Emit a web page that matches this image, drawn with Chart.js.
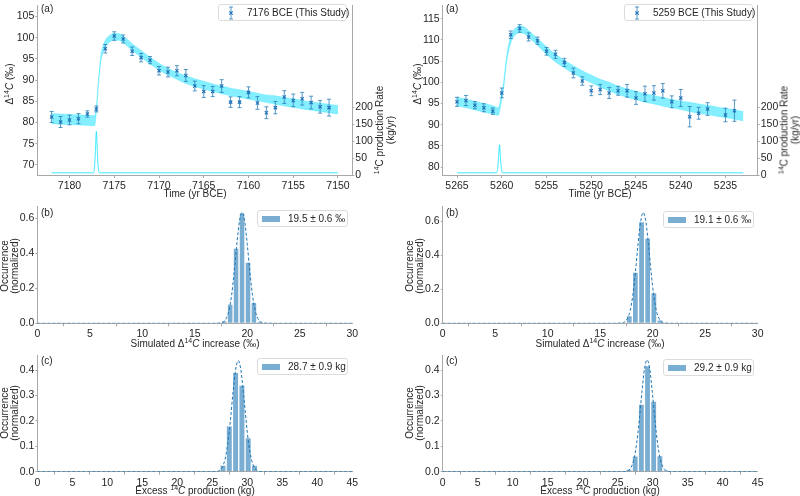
<!DOCTYPE html>
<html lang="en">
<head>
<meta charset="UTF-8">
<title>Radiocarbon events 7176 BCE and 5259 BCE</title>
<script src="https://cdn.jsdelivr.net/npm/chart.js"></script>
<style>
  body { margin: 0; background: #fff; font-family: "Liberation Sans", Arial, sans-serif; color: #262626; }
  #fig { position: relative; width: 800px; height: 496px; overflow: hidden; }
  canvas { position: absolute; }
  .lbl { position: absolute; font-size: 10px; line-height: 10px; white-space: nowrap; }
  .c { transform: translate(-50%, -50%); text-align: center; }
  .rot { transform: translate(-50%, -50%) rotate(-90deg); text-align: center; }
  .sup { font-size: 7px; position: relative; top: -4px; }
  .legend { position: absolute; height: 17px; box-sizing: border-box; border: 1px solid #dcdcdc;
            border-radius: 3px; background: #fff; font-size: 10px; }
  .legend span { position: absolute; top: 2px; white-space: nowrap; }
  .legend .patch { position: absolute; top: 5px; left: 4px; width: 18px; height: 6px; background: rgba(31,119,180,0.6); }
  .legend svg { position: absolute; top: 1px; left: 6px; }
</style>
</head>
<body>
<div id="fig">
  <canvas id="aLeft" width="400" height="190" style="left:0;top:0"></canvas>
  <canvas id="aRight" width="400" height="190" style="left:400px;top:0"></canvas>
  <canvas id="bLeft" width="400" height="145" style="left:0;top:195px"></canvas>
  <canvas id="bRight" width="400" height="145" style="left:400px;top:195px"></canvas>
  <canvas id="cLeft" width="400" height="145" style="left:0;top:345px"></canvas>
  <canvas id="cRight" width="400" height="145" style="left:400px;top:345px"></canvas>

  <!-- panel letters -->
  <div class="lbl" style="left:41px;top:4px">(a)</div>
  <div class="lbl" style="left:446px;top:4px">(a)</div>
  <div class="lbl" style="left:41px;top:208px">(b)</div>
  <div class="lbl" style="left:446px;top:208px">(b)</div>
  <div class="lbl" style="left:41px;top:356px">(c)</div>
  <div class="lbl" style="left:446px;top:356px">(c)</div>

  <!-- axis titles -->
  <div class="lbl rot" style="left:10px;top:84px">Δ<span class="sup">14</span><i>C</i> (‰)</div>
  <div class="lbl rot" style="left:418px;top:84px">Δ<span class="sup">14</span><i>C</i> (‰)</div>
  <div class="lbl rot" style="left:385px;top:130px"><span class="sup">14</span>C production Rate<br>(kg/yr)</div>
  <div class="lbl rot" style="left:790px;top:130px"><span class="sup">14</span>C production Rate<br>(kg/yr)</div>
  <div class="lbl c" style="left:195px;top:194px">Time (yr BCE)</div>
  <div class="lbl c" style="left:600px;top:194px">Time (yr BCE)</div>
  <div class="lbl rot" style="left:10px;top:266px">Occurrence<br>(normalized)</div>
  <div class="lbl rot" style="left:415px;top:266px">Occurrence<br>(normalized)</div>
  <div class="lbl c" style="left:195px;top:344px">Simulated Δ<span class="sup">14</span><i>C</i> increase (‰)</div>
  <div class="lbl c" style="left:600px;top:344px">Simulated Δ<span class="sup">14</span><i>C</i> increase (‰)</div>
  <div class="lbl rot" style="left:10px;top:413px">Occurrence<br>(normalized)</div>
  <div class="lbl rot" style="left:415px;top:413px">Occurrence<br>(normalized)</div>
  <div class="lbl c" style="left:195px;top:491px">Excess <span class="sup">14</span><i>C</i> production (kg)</div>
  <div class="lbl c" style="left:600px;top:491px">Excess <span class="sup">14</span><i>C</i> production (kg)</div>

  <!-- legends -->
  <div class="legend" style="left:218px;top:4px;width:129px">
    <svg width="12" height="14"><path d="M6 1V13M4 1H8M4 13H8" stroke="rgba(31,119,180,0.75)" stroke-width="1" fill="none"/><path d="M4.3 5.3L7.7 8.7M7.7 5.3L4.3 8.7" stroke="#1f6fb4" stroke-width="1.1"/></svg>
    <span style="left:28px">7176 BCE (This Study)</span>
  </div>
  <div class="legend" style="left:624px;top:4px;width:129px">
    <svg width="12" height="14"><path d="M6 1V13M4 1H8M4 13H8" stroke="rgba(31,119,180,0.75)" stroke-width="1" fill="none"/><path d="M4.3 5.3L7.7 8.7M7.7 5.3L4.3 8.7" stroke="#1f6fb4" stroke-width="1.1"/></svg>
    <span style="left:28px">5259 BCE (This Study)</span>
  </div>
  <div class="legend" style="left:257px;top:210px;width:91px"><div class="patch"></div><span style="left:30px">19.5 ± 0.6 ‰</span></div>
  <div class="legend" style="left:663px;top:211px;width:91px"><div class="patch"></div><span style="left:30px">19.1 ± 0.6 ‰</span></div>
  <div class="legend" style="left:257px;top:358px;width:91px"><div class="patch"></div><span style="left:30px">28.7 ± 0.9 kg</span></div>
  <div class="legend" style="left:663px;top:359px;width:91px"><div class="patch"></div><span style="left:30px">29.2 ± 0.9 kg</span></div>
</div>

<script>
// ---- panel (a), 7176 BCE event ----
const yearsL = [7182, 7181, 7180, 7179, 7178, 7177, 7176, 7175, 7174, 7173, 7172, 7171, 7170, 7169, 7168, 7167,
                7166, 7165, 7164, 7163, 7162, 7161, 7160, 7159, 7158, 7157, 7156, 7155, 7154, 7153, 7152, 7151];
const d14cL = [81.3, 80.1, 80.6, 80.9, 82.0, 83.2, 97.4, 100.4, 99.7, 96.8, 95.3, 94.7, 92.2, 91.9, 92.2, 91.1,
               88.6, 87.3, 87.3, 88.6, 84.8, 84.8, 87.1, 84.6, 82.3, 83.5, 86.0, 85.2, 85.6, 84.7, 83.7, 83.5];
const errL = [1.3, 1.3, 1.15, 1.2, 0.75, 0.7, 1.0, 1.0, 0.95, 1.0, 1.0, 0.85, 1.0, 1.15, 1.2, 1.4,
              1.15, 1.4, 1.2, 1.5, 1.25, 1.3, 1.3, 1.5, 1.4, 1.45, 1.5, 1.5, 1.5, 1.5, 1.5, 2.0];
const bandYearsL = [7182, 7181, 7180, 7179, 7178, 7177.2, 7177.0, 7176.8, 7176.5, 7176.2, 7176, 7175.5, 7175, 7174.5,
                    7174, 7173, 7172, 7171, 7170, 7169, 7168, 7167, 7166, 7165, 7164, 7163, 7162, 7161, 7160,
                    7159, 7158, 7157, 7156, 7155, 7154, 7153, 7152, 7151, 7150];
const bandHiL = [82.1, 82.0, 81.9, 81.8, 81.7, 81.6, 83.8, 89.3, 95.8, 98.4, 99.4, 100.6, 101.0, 101.0,
                 100.4, 98.6, 97.0, 95.4, 94.0, 92.8, 91.8, 91.0, 90.3, 89.7, 89.1, 88.6, 88.1, 87.7, 87.3,
                 86.9, 86.5, 86.3, 85.9, 85.6, 85.2, 84.9, 84.6, 84.3, 84.0];
const bandLoL = [79.7, 79.6, 79.5, 79.4, 79.3, 79.2, 82.2, 87.7, 94.2, 96.8, 97.8, 99.0, 99.4, 99.4,
                 98.8, 97.0, 95.4, 93.8, 92.4, 91.2, 90.2, 89.2, 88.5, 87.9, 87.3, 86.8, 86.3, 85.9, 85.5,
                 85.1, 84.7, 84.3, 83.9, 83.6, 83.2, 82.9, 82.6, 82.3, 82.0];
const prodYearsL = [7182, 7177.35, 7177.2, 7177.1, 7177.0, 7176.9, 7176.8, 7176.65, 7150];
const prodL = [6.5, 6.5, 25, 75, 128, 75, 25, 6.5, 6.5];

// ---- panel (a), 5259 BCE event ----
const yearsR = [5265, 5264, 5263, 5262, 5261, 5260, 5259, 5258, 5257, 5256, 5255, 5254, 5253, 5252, 5251, 5250,
                5249, 5248, 5247, 5246, 5245, 5244, 5243, 5242, 5241, 5240, 5239, 5238, 5237, 5235, 5234];
const d14cR = [95.4, 95.7, 94.6, 94.0, 93.2, 97.5, 111.2, 112.7, 110.7, 109.8, 107.3, 106.6, 104.7, 102.2, 100.3, 98.0,
               98.3, 97.5, 98.0, 98.0, 96.3, 97.3, 97.5, 98.0, 95.4, 96.3, 91.9, 92.7, 93.7, 92.3, 93.3];
const errR = [1.07, 1.2, 0.85, 0.95, 0.75, 1.15, 0.9, 0.9, 0.95, 0.85, 0.9, 0.95, 0.95, 1.15, 1.0, 1.15,
              1.2, 1.3, 1.05, 1.5, 1.5, 1.8, 1.7, 1.7, 1.4, 2.0, 2.4, 1.4, 1.5, 1.6, 2.5];
const bandYearsR = [5265, 5264, 5263, 5262, 5261, 5260.4, 5260.1, 5259.8, 5259.45, 5259.1, 5258.8, 5258.4, 5258, 5257.5,
                    5257, 5256, 5255, 5254, 5253, 5252, 5251, 5250, 5249, 5248, 5247, 5246, 5245, 5244, 5243,
                    5242, 5241, 5240, 5239, 5238, 5237, 5236, 5235, 5234, 5233];
const bandHiR = [96.5, 96.0, 95.5, 95.0, 94.5, 94.0, 96.3, 100.0, 106.3, 110.1, 111.8, 112.9, 113.3, 113.1,
                 112.2, 110.3, 108.4, 106.6, 105.2, 103.9, 102.7, 101.7, 100.7, 100.0, 99.1, 98.5, 97.9, 97.3, 96.9,
                 96.4, 96.0, 95.6, 95.3, 94.9, 94.6, 94.2, 93.9, 93.5, 93.1];
const bandLoR = [94.5, 94.0, 93.5, 93.0, 92.5, 92.2, 94.7, 98.4, 104.7, 108.5, 110.2, 111.3, 111.7, 111.5,
                 110.6, 108.7, 106.6, 104.8, 103.4, 102.1, 100.9, 99.9, 98.9, 98.0, 97.1, 96.5, 95.9, 95.3, 94.9,
                 94.4, 94.0, 93.6, 93.1, 92.7, 92.4, 92.0, 91.7, 91.3, 90.9];
const prodYearsR = [5265, 5260.6, 5260.45, 5260.35, 5260.25, 5260.15, 5260.05, 5259.9, 5233];
const prodR = [6.5, 6.5, 20, 55, 89, 55, 20, 6.5, 6.5];

// ---- panel (b), simulated increase histograms ----
const binsB1 = [17.8, 18.37, 18.93, 19.5, 20.07, 20.63, 21.2];
const occB1 = [0.015, 0.11, 0.43, 0.63, 0.35, 0.12, 0.01];
const fitXB1 = [0, 16.5, 17.5, 17.75, 18.0, 18.25, 18.5, 18.75, 19.0, 19.25, 19.5, 19.75, 20.0, 20.25, 20.5, 20.75, 21.0, 21.25, 21.5, 22.5, 30];
const fitYB1 = [0, 0, 0.002, 0.009, 0.028, 0.072, 0.158, 0.291, 0.449, 0.582, 0.635, 0.582, 0.449, 0.291, 0.158, 0.072, 0.028, 0.009, 0.002, 0, 0];
const binsB2 = [17.77, 18.35, 18.94, 19.52, 20.11, 20.69];
const occB2 = [0.045, 0.30, 0.596, 0.50, 0.18, 0.02];
const fitXB2 = [0, 16.1, 17.1, 17.35, 17.6, 17.85, 18.1, 18.35, 18.6, 18.85, 19.1, 19.35, 19.6, 19.85, 20.1, 20.35, 20.6, 20.85, 21.1, 22.1, 30];
const fitYB2 = [0, 0, 0.002, 0.009, 0.029, 0.074, 0.162, 0.298, 0.46, 0.596, 0.65, 0.596, 0.46, 0.298, 0.162, 0.074, 0.029, 0.009, 0.002, 0, 0];

// ---- panel (c), excess production histograms ----
const binsC1 = [26.53, 27.43, 28.33, 29.23, 30.13, 31.03];
const occC1 = [0.026, 0.18, 0.391, 0.341, 0.134, 0.026];
const fitXC1 = [0, 24.7, 25.7, 26.08, 26.45, 26.83, 27.2, 27.58, 27.95, 28.33, 28.7, 29.08, 29.45, 29.83, 30.2, 30.58, 30.95, 31.33, 31.7, 32.7, 45];
const fitYC1 = [0, 0, 0.001, 0.006, 0.019, 0.05, 0.109, 0.2, 0.309, 0.401, 0.437, 0.401, 0.309, 0.2, 0.109, 0.05, 0.019, 0.006, 0.001, 0, 0];
const binsC2 = [26.62, 27.5, 28.38, 29.26, 30.14, 31.02, 31.9];
const occC2 = [0.01, 0.062, 0.266, 0.417, 0.278, 0.063, 0.005];
const fitXC2 = [0, 25.2, 26.2, 26.58, 26.95, 27.33, 27.7, 28.08, 28.45, 28.83, 29.2, 29.58, 29.95, 30.33, 30.7, 31.08, 31.45, 31.83, 32.2, 33.2, 45];
const fitYC2 = [0, 0, 0.001, 0.006, 0.019, 0.05, 0.11, 0.201, 0.311, 0.404, 0.44, 0.404, 0.311, 0.201, 0.11, 0.05, 0.019, 0.006, 0.001, 0, 0];

const FONT = '"Liberation Sans", Arial, sans-serif';
const TEXT = '#262626';
const AXIS = '#a8a8a8';
const BLUE = '#1f77b4';
Chart.defaults.font.family = FONT;
Chart.defaults.color = TEXT;

const pts = (xs, ys) => xs.map((x, i) => ({ x: x, y: ys[i] }));

// force the axis box to a fixed size so every plot area lands where it should
function fixSize(size) {
    return function (scale) {
        if (scale.isHorizontal()) scale.height = size; else scale.width = size;
        scale.paddingTop = 0; scale.paddingBottom = 0;
        scale.paddingLeft = 0; scale.paddingRight = 0;
    };
}

function axis(extra, tickLen) {
    const ticks = Object.assign({ font: { size: 10.5 }, color: TEXT, padding: tickLen ? 1 : 2, includeBounds: false,
                                  autoSkip: false, maxRotation: 0 }, extra.ticks || {});
    return Object.assign({
        grid: { drawOnChartArea: false, tickLength: tickLen || 3, tickColor: AXIS },
        border: { color: AXIS, width: 1 }
    }, extra, { ticks: ticks });
}

// vertical error bars drawn just before the marker dataset
const errorBars = {
    id: 'errorBars',
    beforeDatasetDraw(chart, args) {
        const ds = chart.data.datasets[args.index];
        if (!ds.errors) return;
        const x = chart.scales.x, y = chart.scales.y, ctx = chart.ctx;
        ctx.save();
        ctx.strokeStyle = 'rgba(31,119,180,0.75)';
        ctx.lineWidth = 1;
        ds.data.forEach((p, i) => {
            const px = x.getPixelForValue(p.x);
            const top = y.getPixelForValue(p.y + ds.errors[i]);
            const bot = y.getPixelForValue(p.y - ds.errors[i]);
            ctx.beginPath();
            ctx.moveTo(px, top); ctx.lineTo(px, bot);
            ctx.moveTo(px - 2, top); ctx.lineTo(px + 2, top);
            ctx.moveTo(px - 2, bot); ctx.lineTo(px + 2, bot);
            ctx.stroke();
        });
        ctx.restore();
    }
};

function timeChart(id, c) {
    new Chart(document.getElementById(id), {
        type: 'line',
        data: {
            datasets: [
                { data: pts(c.years, c.d14c), errors: c.err, showLine: false, pointStyle: 'crossRot',
                  pointRadius: 2.3, pointBorderWidth: 1.1, pointBorderColor: '#1f6fb4', yAxisID: 'y' },
                { data: pts(c.bandYears, c.bandHi), fill: '+1', backgroundColor: 'rgba(0,222,255,0.48)',
                  borderColor: 'rgba(0,222,255,0.25)', borderWidth: 1, pointRadius: 0,
                  cubicInterpolationMode: 'monotone', yAxisID: 'y' },
                { data: pts(c.bandYears, c.bandLo), fill: false, borderColor: 'rgba(0,222,255,0.25)',
                  borderWidth: 1, pointRadius: 0, cubicInterpolationMode: 'monotone', yAxisID: 'y' },
                { data: pts(c.prodYears, c.prod), fill: false, borderColor: 'rgba(0,225,255,0.75)',
                  borderWidth: 1, pointRadius: 0, cubicInterpolationMode: 'monotone', yAxisID: 'y2' }
            ]
        },
        options: {
            responsive: false, animation: false, events: [],
            layout: { padding: 0 },
            plugins: { legend: { display: false }, tooltip: { enabled: false } },
            scales: {
                x: axis({ type: 'linear', reverse: true, min: c.xMin, max: c.xMax, afterFit: fixSize(15),
                          ticks: { stepSize: 5, callback: v => String(v) } }),
                y: axis({ position: 'left', min: c.yMin, max: c.yMax, afterFit: fixSize(c.leftW),
                          ticks: { stepSize: 5, callback: v => String(v) } }, 2),
                y2: axis({ position: 'right', min: 0, max: 500, afterFit: fixSize(c.rightW),
                           afterBuildTicks: s => { s.ticks = s.ticks.filter(t => t.value <= 200); },
                           ticks: { stepSize: 50, callback: v => String(v) } }, 2)
            }
        },
        plugins: [errorBars]
    });
}

function histChart(id, c) {
    new Chart(document.getElementById(id), {
        type: 'bar',
        data: {
            datasets: [
                { type: 'line', data: pts(c.fitX, c.fitY), borderColor: BLUE, borderWidth: 1, borderDash: [3, 2],
                  pointRadius: 0, fill: false, cubicInterpolationMode: 'monotone' },
                { type: 'bar', data: pts(c.bins, c.occ), backgroundColor: 'rgba(31,119,180,0.6)',
                  borderColor: '#ffffff', borderWidth: 1, barPercentage: 1, categoryPercentage: 1 }
            ]
        },
        options: {
            responsive: false, animation: false, events: [],
            layout: { padding: { top: c.padTop, right: c.padRight, left: 0, bottom: 0 } },
            plugins: { legend: { display: false }, tooltip: { enabled: false } },
            scales: {
                x: axis({ type: 'linear', min: 0, max: c.xMax, offset: false, afterFit: fixSize(c.bottomH),
                          ticks: { stepSize: 5, callback: v => String(v) } }),
                y: axis({ min: 0, max: c.yMax, afterFit: fixSize(c.leftW),
                          ticks: { stepSize: c.yStep, callback: v => v.toFixed(1) } }, 2)
            }
        }
    });
}

timeChart('aLeft', { years: yearsL, d14c: d14cL, err: errL, bandYears: bandYearsL, bandHi: bandHiL, bandLo: bandLoL,
    prodYears: prodYearsL, prod: prodL, xMin: 7148.4, xMax: 7183.6, yMin: 67.6, yMax: 107.7, leftW: 37.3, rightW: 47.7 });
timeChart('aRight', { years: yearsR, d14c: d14cR, err: errR, bandYears: bandYearsR, bandHi: bandHiR, bandLo: bandLoR,
    prodYears: prodYearsR, prod: prodR, xMin: 5231.4, xMax: 5266.6, yMin: 78.15, yMax: 118.2, leftW: 42.7, rightW: 42.3 });

histChart('bLeft', { bins: binsB1, occ: occB1, fitX: fitXB1, fitY: fitYB1, xMax: 30, yMax: 0.666, yStep: 0.2,
    padTop: 11.7, padRight: 47.7, bottomH: 16.7, leftW: 37.3 });
histChart('bRight', { bins: binsB2, occ: occB2, fitX: fitXB2, fitY: fitYB2, xMax: 30, yMax: 0.684, yStep: 0.2,
    padTop: 11.7, padRight: 42.3, bottomH: 16.7, leftW: 42.7 });
histChart('cLeft', { bins: binsC1, occ: occC1, fitX: fitXC1, fitY: fitYC1, xMax: 45, yMax: 0.459, yStep: 0.1,
    padTop: 10, padRight: 47.7, bottomH: 18.3, leftW: 37.3 });
histChart('cRight', { bins: binsC2, occ: occC2, fitX: fitXC2, fitY: fitYC2, xMax: 45, yMax: 0.459, yStep: 0.1,
    padTop: 10, padRight: 42.3, bottomH: 18.3, leftW: 42.7 });
</script>
</body>
</html>
